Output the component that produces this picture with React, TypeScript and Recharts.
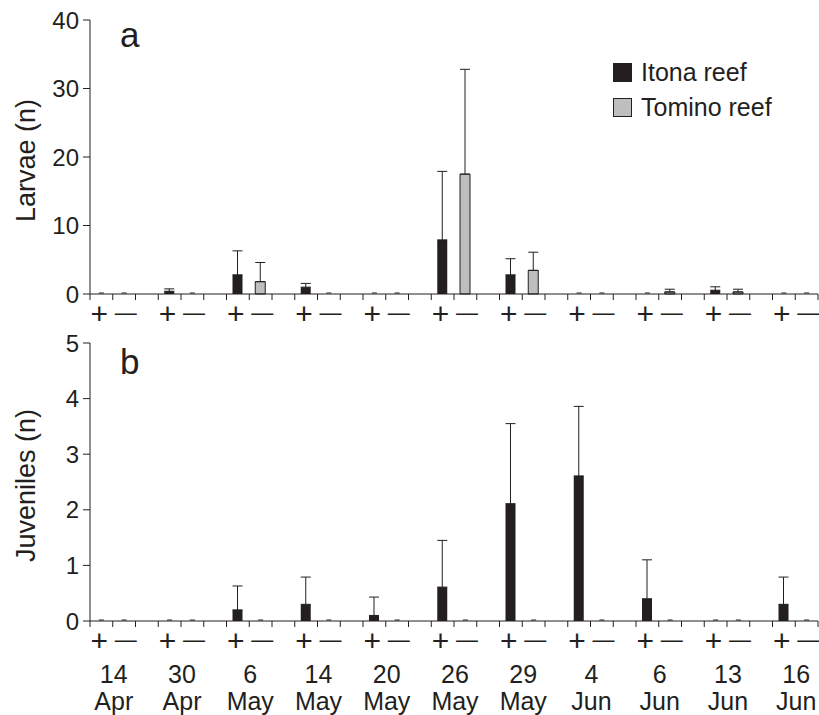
import { BarChart, Bar, Cell, ErrorBar, XAxis, YAxis } from 'recharts'

// sampling dates (day / month on two lines)
const days = ['14', '30', '6', '14', '20', '26', '29', '4', '6', '13', '16']
const months = ['Apr', 'Apr', 'May', 'May', 'May', 'May', 'May', 'Jun', 'Jun', 'Jun', 'Jun']

// panel a: larvae, mean and upper error (+SD)
const larvaeItona = [0, 0.4, 2.8, 1.0, 0, 7.9, 2.8, 0, 0, 0.55, 0]
const larvaeItonaErr = [0, 0.35, 3.5, 0.55, 0, 10.0, 2.35, 0, 0, 0.5, 0]
const larvaeTomino = [0, 0, 1.8, 0, 0, 17.5, 3.45, 0, 0.3, 0.3, 0]
const larvaeTominoErr = [0, 0, 2.8, 0, 0, 15.3, 2.65, 0, 0.4, 0.4, 0]

// panel b: juveniles
const juvPlus = [0, 0, 0.2, 0.3, 0.1, 0.61, 2.11, 2.61, 0.4, 0, 0.3]
const juvPlusErr = [0, 0, 0.43, 0.49, 0.33, 0.84, 1.44, 1.25, 0.7, 0, 0.49]
const juvMinus = [0, 0, 0, 0, 0, 0, 0, 0, 0, 0, 0]
const juvMinusErr = [0, 0, 0, 0, 0, 0, 0, 0, 0, 0, 0]

const larvaeTicks = [0, 10, 20, 30, 40]
const juvTicks = [0, 1, 2, 3, 4, 5]

const INK = '#231f20'
const GREY = '#bcbec0'
const FONT = '"Liberation Sans", Arial, Helvetica, sans-serif'

type Slot = { slot: string; kind: string; date: number; value: number | null; err: number[] | null }

// +, −, gap, +, −, gap ... (no gap after the last date)
function buildSlots(plus: number[], plusErr: number[], minus: number[], minusErr: number[]): Slot[] {
  const out: Slot[] = []
  days.forEach((_, i) => {
    out.push({ slot: `${i}p`, kind: '+', date: i, value: plus[i], err: [0, plusErr[i]] })
    out.push({ slot: `${i}m`, kind: '-', date: i, value: minus[i], err: [0, minusErr[i]] })
    if (i < days.length - 1) out.push({ slot: `${i}g`, kind: '', date: i, value: null, err: null })
  })
  return out
}

const larvaeData = buildSlots(larvaeItona, larvaeItonaErr, larvaeTomino, larvaeTominoErr)
const juvData = buildSlots(juvPlus, juvPlusErr, juvMinus, juvMinusErr)

const W = 819
const PLOT_W = 728
const BAND = PLOT_W / larvaeData.length

function SlotTick({ x, y, payload, data, showDates }: any) {
  const i = payload.index
  const s: Slot = data[i]
  return (
    <g>
      <line x1={x - BAND / 2} x2={x - BAND / 2} y1={y} y2={y + 6} stroke={INK} />
      {i === data.length - 1 && <line x1={x + BAND / 2} x2={x + BAND / 2} y1={y} y2={y + 6} stroke={INK} />}
      {/* zero-value marker */}
      {s.kind !== '' && s.value === 0 && (
        <line x1={x - 2.5} x2={x + 2.5} y1={y - 1} y2={y - 1} stroke={INK} />
      )}
      {s.kind === '+' && (
        <text x={x - 2} y={y + 30} textAnchor="middle" fontSize={30} fill={INK} fontFamily={FONT}>+</text>
      )}
      {s.kind === '-' && (
        <text x={x + 1.5} y={y + 26} textAnchor="middle" fontSize={22} fill={INK} fontFamily={FONT}>—</text>
      )}
      {showDates && s.kind === '+' && (
        <text x={x + BAND / 2} textAnchor="middle" fontSize={25} fill={INK} fontFamily={FONT}>
          <tspan x={x + BAND / 2 + 1} y={y + 62}>{days[s.date]}</tspan>
          <tspan x={x + BAND / 2 + 1} y={y + 89}>{months[s.date]}</tspan>
        </text>
      )}
    </g>
  )
}

function YTitle({ viewBox, text }: any) {
  const cx = 26
  const cy = viewBox.y + viewBox.height / 2 + 3.5
  return (
    <text
      x={cx}
      y={cy}
      transform={`rotate(-90 ${cx} ${cy})`}
      textAnchor="middle"
      dominantBaseline="central"
      fontSize={27}
      fill={INK}
      fontFamily={FONT}
    >
      {text}
    </text>
  )
}

function Panel({ data, ticks, title, height, top, axisH, showDates }: any) {
  return (
    <BarChart
      width={W}
      height={height}
      data={data}
      margin={{ top, right: 1, bottom: 0, left: 0 }}
      style={{ fontFamily: FONT }}
    >
      <XAxis
        dataKey="slot"
        interval={0}
        height={axisH}
        stroke={INK}
        tickLine={false}
        tickSize={0}
        tickMargin={0}
        tick={<SlotTick data={data} showDates={showDates} />}
      />
      <YAxis
        width={90}
        domain={[ticks[0], ticks[ticks.length - 1]]}
        ticks={ticks}
        stroke={INK}
        tickSize={7}
        tickMargin={4}
        tick={{ fontSize: 24, fill: INK }}
        label={<YTitle text={title} />}
      />
      <Bar dataKey="value" barSize={10} isAnimationActive={false}>
        {data.map((s: Slot, i: number) => (
          <Cell
            key={i}
            fill={s.kind === '-' ? GREY : INK}
            stroke={s.kind === '-' ? INK : 'none'}
            strokeWidth={1}
          />
        ))}
        <ErrorBar dataKey="err" width={5} stroke={INK} strokeWidth={1} direction="y" />
      </Bar>
    </BarChart>
  )
}

export default function App() {
  return (
    <div style={{ position: 'relative', width: W, height: 715, fontFamily: FONT, color: INK }}>
      <style>{'body { margin: 0; }'}</style>
      <div style={{ position: 'absolute', left: 0, top: 0 }}>
        <Panel data={larvaeData} ticks={larvaeTicks} title="Larvae (n)" height={338} top={20} axisH={44} />
      </div>
      <div style={{ position: 'absolute', left: 0, top: 330 }}>
        <Panel data={juvData} ticks={juvTicks} title="Juveniles (n)" height={385} top={13} axisH={94} showDates />
      </div>

      {/* panel letters */}
      <div style={{ position: 'absolute', left: 120, top: 15, fontSize: 35, lineHeight: '40px' }}>a</div>
      <div style={{ position: 'absolute', left: 120, top: 342, fontSize: 35, lineHeight: '40px' }}>b</div>

      {/* legend */}
      <div style={{ position: 'absolute', left: 613, top: 55, fontSize: 25, lineHeight: '35px' }}>
        {[
          { name: 'Itona reef', color: INK },
          { name: 'Tomino reef', color: GREY },
        ].map((l) => (
          <div key={l.name} style={{ display: 'flex', alignItems: 'center', gap: 9 }}>
            <span
              style={{
                width: 19,
                height: 19,
                background: l.color,
                border: `1px solid ${INK}`,
                boxSizing: 'border-box',
                display: 'inline-block',
              }}
            />
            <span>{l.name}</span>
          </div>
        ))}
      </div>
    </div>
  )
}
